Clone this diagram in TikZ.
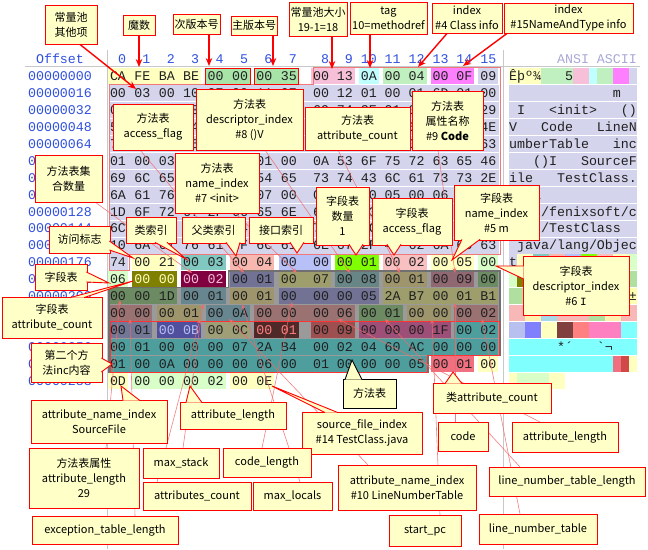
\documentclass[tikz,border=0pt]{standalone}
\usepackage{fontspec}
\setmainfont{Noto Sans CJK SC}
\newfontfamily\monof{Liberation Mono}
\usetikzlibrary{arrows.meta}
\definecolor{lblY}{HTML}{FFFFC8}
\definecolor{lblR}{HTML}{FF0000}
\definecolor{offB}{HTML}{3050E0}
\definecolor{hdrL}{HTML}{A8A8D8}
\definecolor{sepG}{HTML}{C8C8C8}
\definecolor{hexT}{HTML}{202020}
\definecolor{cLav}{HTML}{D4D4EC}
\definecolor{cYel}{HTML}{FFFFC0}
\definecolor{cVer}{HTML}{A8E4A8}
\definecolor{cPnk}{HTML}{F8C0D8}
\definecolor{cCya}{HTML}{C0FFFF}
\definecolor{cLgr}{HTML}{C0F0C0}
\definecolor{cMag}{HTML}{FF80FF}
\definecolor{cTea}{HTML}{80C8C0}
\definecolor{cSal}{HTML}{F8B8B0}
\definecolor{cPer}{HTML}{B8C0F8}
\definecolor{cBgr}{HTML}{80FF00}
\definecolor{cRos}{HTML}{F8C0C0}
\definecolor{cPgr}{HTML}{D8FFC8}
\definecolor{cOli}{HTML}{808000}
\definecolor{cMar}{HTML}{800040}
\definecolor{mA}{HTML}{B8B8F0}
\definecolor{mB}{HTML}{FFFFB0}
\definecolor{mC}{HTML}{A8D8D8}
\definecolor{mD}{HTML}{FFF0B0}
\definecolor{mE}{HTML}{E8A8B8}
\definecolor{mF}{HTML}{B0E0A0}
\definecolor{mG}{HTML}{A8D8E8}
\definecolor{mR}{HTML}{F8B8B8}
\definecolor{nA}{HTML}{B8C0F0}
\definecolor{nB}{HTML}{8080FF}
\definecolor{nC}{HTML}{FFFFC0}
\definecolor{nD}{HTML}{804040}
\definecolor{nE}{HTML}{FF8080}
\definecolor{nF}{HTML}{FF80C0}
\definecolor{nG}{HTML}{80FFFF}
\definecolor{cRed}{HTML}{F07080}
\definecolor{cRd2}{HTML}{D04848}
\definecolor{regG}{HTML}{9A9A9A}
\definecolor{regB}{HTML}{707070}
\definecolor{cpO}{HTML}{F07878}
\definecolor{pkC}{HTML}{F06A6A}
\newcommand\lblfont{\fontsize{11}{15}\selectfont}
\newcommand\hexfont{\monof\fontsize{13.3}{14}\selectfont}
\tikzset{
  declare function={colx(\i)=ifthenelse(\i<8,118+24.4*\i,321+23.9*(\i-8)); rowy(\r)=76+16.95*\r;},
  lbl/.style={draw=lblR, fill=lblY, line width=0.9pt, align=center, inner sep=0pt, font=\lblfont, text=black},
  hex/.style={font=\hexfont, inner sep=0pt, text height=8.8pt, text depth=0pt},
  asc/.style={font=\hexfont, inner sep=0pt, text height=8.8pt, text depth=0pt, anchor=west, text=hexT},
  offs/.style={font=\hexfont, inner sep=0pt, text height=8.8pt, text depth=0pt, text=offB},
  hdr/.style={font=\hexfont, inner sep=0pt, text height=8.8pt, text depth=0pt, text=offB},
  ra/.style={draw=lblR, line width=1.4pt, -{Stealth[length=8pt,width=6.5pt]}},
  pk/.style={draw=pkC, line width=0.6pt, draw opacity=0.85, -{Stealth[length=5pt,width=4pt]}},
}
\newcommand\hseg[4]{\fill[#4] ({colx(#2)-10},{rowy(#1)-8}) rectangle ({colx(#3)+10},{rowy(#1)+8});}
\newcommand\dseg[4]{\fill[#4!62!black] ({colx(#2)-10},{rowy(#1)-8}) rectangle ({colx(#3)+10},{rowy(#1)+8});}
\newcommand\aseg[4]{\fill[#4] ({509+8*#2},{rowy(#1)-8}) rectangle ({517+8*#3},{rowy(#1)+8});}
\newcommand\hexrow[5][hexT]{\foreach \b [count=\k from #4] in {#5} {\node[hex,text=#1] (#2-\k) at ({colx(\k)},{rowy(#3)}) {\b};}}
\newcommand\tail[4][lblR]{\fill[lblY] (#2) -- (#3) -- (#4) -- cycle; \draw[#1, line width=0.9pt] (#2) -- (#3) -- (#4);}
\begin{document}
\begin{tikzpicture}[x=1pt,y=-1pt]
\useasboundingbox (0,0) rectangle (648,549);
\fill[white] (0,0) rectangle (648,549);
% ---------- headers and separators
\draw[sepG, line width=0.8pt] (107.5,50) -- (107.5,549);
\draw[sepG, line width=0.8pt] (503,50) -- (503,549);
\draw[sepG, line width=0.6pt] (25,66.5) -- (640,66.5);
\node[offs] (offhdr) at (60,59) {Offset};
\foreach \i in {0,...,15} {\node[hdr] (hd\i) at ({colx(\i)+ifthenelse(\i<10,4,0)},59) {\i};}
\node[hex, text=hdrL] (ansi) at (597,59) {ANSI ASCII};
\foreach \o [count=\r from 0] in {00000000,00000016,00000032,00000048,00000064,00000080,00000096,00000112,00000128,00000144,00000160,00000176,00000192,00000208,00000224,00000240,00000256,00000272,00000288}
  {\node[offs] (off\r) at (60,{rowy(\r)}) {\o};}
% ---------- hex backgrounds
\hseg{0}{0}{3}{cYel}
\hseg{0}{4}{5}{cVer}
\hseg{0}{6}{7}{cVer}
\hseg{0}{8}{9}{cPnk}
\hseg{0}{10}{10}{cCya}
\hseg{0}{11}{12}{cLgr}
\hseg{0}{13}{14}{cMag}
\hseg{0}{15}{15}{cLav}
\foreach \r in {1,...,10} {\fill[cLav] (109,{rowy(\r)-8}) rectangle (499,{rowy(\r)+8});}
\fill[cLav] (109,{rowy(11)-8}) rectangle ({colx(0)+10},{rowy(11)+8});
\hseg{11}{1}{2}{cYel}
\hseg{11}{3}{4}{cTea}
\hseg{11}{5}{6}{cSal}
\hseg{11}{7}{8}{cPer}
\hseg{11}{9}{10}{cBgr}
\hseg{11}{11}{12}{cRos}
\hseg{11}{13}{14}{cYel}
\hseg{11}{15}{15}{cPgr}
\hseg{12}{0}{0}{cPgr}
\hseg{12}{1}{2}{cOli}
\hseg{12}{3}{4}{cMar}
% methods region
\fill[regG] ({colx(5)-11.5},{rowy(12)-8.5}) -- (500,{rowy(12)-8.5}) -- (500,{rowy(16)+8.5}) -- ({colx(12)+11.5},{rowy(16)+8.5}) -- ({colx(12)+11.5},{rowy(17)+8.5}) -- (109,{rowy(17)+8.5}) -- (109,{rowy(13)-8.5}) -- ({colx(5)-11.5},{rowy(13)-8.5}) -- cycle;
\dseg{12}{5}{6}{mA}
\dseg{12}{7}{8}{mB}
\dseg{12}{9}{10}{mC}
\dseg{12}{11}{12}{mD}
\dseg{12}{13}{14}{mE}
\dseg{12}{15}{15}{mF}
\dseg{13}{0}{2}{mF}
\dseg{13}{3}{4}{mG}
\dseg{13}{5}{6}{mD}
\dseg{13}{7}{10}{mA}
\dseg{13}{11}{15}{mB}
\dseg{14}{0}{1}{mR}
\dseg{14}{2}{3}{mD}
\dseg{14}{4}{5}{mG}
\dseg{14}{6}{9}{mR}
\dseg{14}{10}{11}{mF}
\dseg{14}{12}{13}{mD}
\dseg{14}{14}{15}{mR}
\dseg{15}{0}{1}{nA}
\dseg{15}{2}{3}{nB}
\dseg{15}{4}{5}{nC}
\dseg{15}{6}{7}{nD}
\dseg{15}{8}{9}{nE}
\dseg{15}{10}{13}{nF}
\dseg{15}{14}{15}{nG}
\dseg{16}{0}{15}{nG}
\dseg{17}{0}{12}{nG}
\hseg{17}{13}{14}{cRed}
\hseg{17}{15}{15}{cYel}
\hseg{18}{0}{0}{cYel}
\hseg{18}{1}{4}{cPgr}
\hseg{18}{5}{6}{cYel}
% outlines
\draw[regB, line width=1.2pt] ({colx(5)-11.5},{rowy(12)-8.5}) -- (500,{rowy(12)-8.5}) -- (500,{rowy(16)+8.5}) -- ({colx(12)+11.5},{rowy(16)+8.5}) -- ({colx(12)+11.5},{rowy(17)+8.5}) -- (109,{rowy(17)+8.5}) -- (109,{rowy(13)-8.5}) -- ({colx(5)-11.5},{rowy(13)-8.5}) -- cycle;
\draw[cpO, line width=1pt] ({colx(8)-8},{rowy(0)-8.5}) -- (500,{rowy(0)-8.5}) -- (500,{rowy(10)+8.5}) -- ({colx(0)+11},{rowy(10)+8.5}) -- ({colx(0)+11},{rowy(11)+8.5}) -- (109,{rowy(11)+8.5}) -- (109,{rowy(0)+8.5}) -- ({colx(8)-8},{rowy(0)+8.5}) -- cycle;
\draw[lblR!80!white, line width=1pt] (110,{rowy(15)-8.5}) -- (499,{rowy(15)-8.5}) -- (499,{rowy(16)+8.5}) -- ({colx(12)+11},{rowy(16)+8.5}) -- ({colx(12)+11},{rowy(17)+8.5}) -- (110,{rowy(17)+8.5}) -- cycle;
\draw[lblR, line width=1pt] ({colx(4)-10},{rowy(0)-8}) rectangle ({colx(5)+10},{rowy(0)+8});
\draw[lblR, line width=1pt] ({colx(6)-10},{rowy(0)-8}) rectangle ({colx(7)+10},{rowy(0)+8});
% ---------- hex text
\hexrow{h0}{0}{0}{CA,FE,BA,BE,00,00,00,35,00,13,0A,00,04,00,0F,09}
\hexrow{h1}{1}{0}{00,03,00,10,07,00,11,07,00,12,01,00,01,6D,01,00}
\hexrow{h2}{2}{0}{01,49,01,00,06,3C,69,6E,69,74,3E,01,00,03,28,29}
\hexrow{h3}{3}{0}{56,01,00,04,43,6F,64,65,01,00,0F,4C,69,6E,65,4E}
\hexrow{h4}{4}{0}{75,6D,62,65,72,54,61,62,6C,65,01,00,03,69,6E,63}
\hexrow{h5}{5}{0}{01,00,03,28,29,49,01,00,0A,53,6F,75,72,63,65,46}
\hexrow{h6}{6}{0}{69,6C,65,01,00,0E,54,65,73,74,43,6C,61,73,73,2E}
\hexrow{h7}{7}{0}{6A,61,76,61,0C,00,07,00,08,0C,00,05,00,06,01,00}
\hexrow{h8}{8}{0}{1D,6F,72,67,2F,66,65,6E,69,78,73,6F,66,74,2F,63}
\hexrow{h9}{9}{0}{6C,61,7A,7A,2F,54,65,73,74,43,6C,61,73,73,01,00}
\hexrow{h10}{10}{0}{10,6A,61,76,61,2F,6C,61,6E,67,2F,4F,62,6A,65,63}
\hexrow{h11}{11}{0}{74,00,21,00,03,00,04,00,00,00,01,00,02,00,05,00}
\hexrow{h12}{12}{0}{06}
\hexrow[cYel]{h12}{12}{1}{00,00}
\hexrow[cPnk]{h12}{12}{3}{00,02}
\hexrow{h12}{12}{5}{00,01,00,07,00,08,00,01,00,09,00}
\hexrow{h13}{13}{0}{00,00,1D,00,01,00,01,00,00,00,05,2A,B7,00,01,B1}
\hexrow{h14}{14}{0}{00,00,00,01,00,0A,00,00,00,06,00,01,00,00,00,02}
\hexrow{h15}{15}{0}{00,01}
\hexrow[nA]{h15}{15}{2}{00,0B}
\hexrow{h15}{15}{4}{00,0C}
\hexrow[nE]{h15}{15}{6}{00,01}
\hexrow{h15}{15}{8}{00,09,00,00,00,1F,00,02}
\hexrow{h16}{16}{0}{00,01,00,00,00,07,2A,B4,00,02,04,60,AC,00,00,00}
\hexrow{h17}{17}{0}{01,00,0A,00,00,00,06,00,01,00,00,00,05,00,01,00}
\hexrow{h18}{18}{0}{0D,00,00,00,02,00,0E}
% ---------- ASCII pane
\aseg{0}{0}{3}{cYel}
\aseg{0}{4}{7}{cLgr}
\aseg{0}{8}{9}{cPnk}
\aseg{0}{10}{10}{cCya}
\aseg{0}{11}{12}{cLgr}
\aseg{0}{13}{14}{cMag}
\aseg{0}{15}{15}{cLav}
\foreach \r in {1,...,10} {\aseg{\r}{0}{15}{cLav}}
\aseg{11}{0}{0}{cLav}
\aseg{11}{1}{2}{cYel}
\aseg{11}{3}{4}{cTea}
\aseg{11}{5}{6}{cSal}
\aseg{11}{7}{8}{cPer}
\aseg{11}{9}{10}{cBgr}
\aseg{11}{11}{12}{cRos}
\aseg{11}{13}{14}{cYel}
\aseg{11}{15}{15}{cPgr}
\aseg{12}{0}{0}{cPgr}
\aseg{12}{1}{2}{cOli}
\aseg{12}{3}{4}{cMar}
\aseg{12}{5}{6}{mA}
\aseg{12}{7}{8}{mB}
\aseg{12}{9}{10}{mC}
\aseg{12}{11}{12}{mD}
\aseg{12}{13}{14}{mE}
\aseg{12}{15}{15}{mF}
\aseg{13}{0}{2}{mF}
\aseg{13}{3}{4}{mG}
\aseg{13}{5}{6}{mD}
\aseg{13}{7}{10}{mA}
\aseg{13}{11}{15}{mB}
\aseg{14}{0}{1}{mR}
\aseg{14}{2}{3}{mD}
\aseg{14}{4}{5}{mG}
\aseg{14}{6}{9}{mR}
\aseg{14}{10}{11}{mF}
\aseg{14}{12}{13}{mD}
\aseg{14}{14}{15}{mR}
\aseg{15}{0}{1}{nA}
\aseg{15}{2}{3}{nB}
\aseg{15}{4}{5}{nC}
\aseg{15}{6}{7}{nD}
\aseg{15}{8}{9}{nE}
\aseg{15}{10}{13}{nF}
\aseg{15}{14}{15}{nG}
\aseg{16}{0}{15}{nG}
\aseg{17}{0}{12}{nG}
\aseg{17}{13}{13}{cRed}
\aseg{17}{14}{14}{cRd2}
\aseg{17}{15}{15}{cYel}
\aseg{18}{0}{0}{cYel}
\aseg{18}{1}{4}{cPgr}
\aseg{18}{5}{6}{cYel}
\node[asc] (a0) at (509,{rowy(0)}) {Êþº¾~~~5};
\node[asc] (a1) at (509,{rowy(1)}) {~~~~~~~~~~~~~m};
\node[asc] (a2) at (509,{rowy(2)}) {~I~~~<init>~~~()};
\node[asc] (a3) at (509,{rowy(3)}) {V~~~Code~~~LineN};
\node[asc] (a4) at (509,{rowy(4)}) {umberTable~~~inc};
\node[asc] (a5) at (509,{rowy(5)}) {~~~()I~~~SourceF};
\node[asc] (a6) at (509,{rowy(6)}) {ile~~~TestClass.};
\node[asc] (a7) at (509,{rowy(7)}) {java};
\node[asc] (a8) at (509,{rowy(8)}) {~org/fenixsoft/c};
\node[asc] (a9) at (509,{rowy(9)}) {lazz/TestClass};
\node[asc] (a10) at (509,{rowy(10)}) {~java/lang/Objec};
\node[asc] (a11) at (509,{rowy(11)}) {t~!};
\node[asc] (a13) at (509,{rowy(13)}) {~~~~~~~~~~~*·~~±};
\node[asc] (a16) at (509,{rowy(16)}) {~~~~~~*´~~~\char"60¬};
% ---------- target coordinates
\coordinate (tOther) at (136,89);
\coordinate (tMagic) at (139,67);
\coordinate (tMinor) at (209,66);
\coordinate (tMajor) at (273,66);
\coordinate (tCnt) at (332,69);
\coordinate (tTag) at (370,68);
\coordinate (tIdx4) at (418,67);
\coordinate (tIdx15) at (463,66);
\coordinate (tMc) at (192,273);
\coordinate (tMa) at (244,273);
\coordinate (tMn) at (297,273);
\coordinate (tMd) at (350,273);
\coordinate (tMac) at (400,273);
\coordinate (tMan) at (455,273);
\coordinate (tAl29) at (120,300);
\coordinate (tExc) at (130,319);
\coordinate (tMs) at (203,304);
\coordinate (tMl) at (242,304);
\coordinate (tCl) at (292,302);
\coordinate (tAc) at (200,319);
\coordinate (tAn) at (229,319);
\coordinate (tAl6) at (338,319);
\coordinate (tLtl) at (385,319);
\coordinate (tSp) at (432,319);
\coordinate (tCode) at (455,303);
\coordinate (tLt) at (482,319);
% ---------- top label nodes
\node[lbl, minimum width=52pt, minimum height=39pt] (cpOther) at (71,24.5) {常量池\\其他项};
\node[lbl, minimum width=32pt, minimum height=20pt] (magic) at (139,25) {魔数};
\node[lbl, minimum width=47pt, minimum height=20pt] (minor) at (196.5,24.5) {次版本号};
\node[lbl, minimum width=46pt, minimum height=19pt] (major) at (254,25.5) {主版本号};
\node[lbl, minimum width=58pt, minimum height=34pt] (cpCount) at (318,19) {常量池大小\\19-1=18};
\node[lbl, minimum width=77pt, minimum height=32pt] (tag) at (388.5,18) {tag\\10=methodref};
\node[lbl, minimum width=70pt, minimum height=30pt] (idx4) at (467,18) {index\\\#4 Class info};
\node[lbl, minimum width=129pt, minimum height=30pt] (idx15) at (568.5,18) {index\\\#15NameAndType info};
% ---------- pink connectors
\coordinate (sMc) at (95,202);
\coordinate (sMa) at (140,150);
\coordinate (sMn) at (235,213);
\coordinate (sMd) at (265,150);
\coordinate (sMac) at (338,150);
\coordinate (sMan) at (438,150);
\coordinate (sAl29) at (106,448);
\coordinate (sExc) at (135,516);
\coordinate (sMs) at (183,448);
\coordinate (sMl) at (300,482);
\coordinate (sCl) at (262,448);
\coordinate (sAc) at (157,482);
\coordinate (sAn) at (368,465);
\coordinate (sAl6) at (540,422);
\coordinate (sLtl) at (520,467);
\coordinate (sSp) at (440,515);
\coordinate (sCode) at (455,422);
\coordinate (sLt) at (520,514);
\draw[pk] (sMc) -- (tMc);
\draw[pk] (sMa) -- (tMa);
\draw[pk] (sMn) -- (tMn);
\draw[pk] (sMd) -- (tMd);
\draw[pk] (sMac) -- (tMac);
\draw[pk] (sMan) -- (tMan);
\draw[pk] (sAl29) -- (tAl29);
\draw[pk] (sExc) -- (tExc);
\draw[pk] (sMs) -- (tMs);
\draw[pk] (sMl) -- (tMl);
\draw[pk] (sCl) -- (tCl);
\draw[pk] (sAc) -- (tAc);
\draw[pk] (sAn) -- (tAn);
\draw[pk] (sAl6) -- (tAl6);
\draw[pk] (sLtl) -- (tLtl);
\draw[pk] (sSp) -- (tSp);
\draw[pk] (sCode) -- (tCode);
\draw[pk] (sLt) -- (tLt);
% ---------- red arrows from top labels
\draw[ra] ([xshift=9pt]cpOther.south) -- (tOther);
\draw[ra] (magic.south) -- (tMagic);
\draw[ra] ([xshift=12.5pt]minor.south) -- (tMinor);
\draw[ra] ([xshift=19pt]major.south) -- (tMajor);
\draw[ra] ([xshift=14pt]cpCount.south) -- (tCnt);
\draw[ra] ([xshift=-18.5pt]tag.south) -- (tTag);
\draw[ra] ([xshift=-20pt]idx4.south) -- (tIdx4);
\draw[ra] ([xshift=-61.5pt]idx15.south) -- (tIdx15);
% ---------- middle labels
\node[lbl, minimum width=80pt, minimum height=46pt] (mAcc) at (153,127) {方法表\\access\_flag};
\node[lbl, minimum width=107pt, minimum height=61pt] (mDesc) at (249.5,119.5) {方法表\\descriptor\_index\\\#8 ()V};
\node[lbl, minimum width=105pt, minimum height=43pt] (mAttrCnt) at (357.5,128.5) {方法表\\attribute\_count};
\node[lbl, minimum width=71pt, minimum height=59pt] (mAttrName) at (447.5,120.5) {方法表\\属性名称\\\#9 \textbf{Code}};
\node[lbl, minimum width=67pt, minimum height=47pt] (mCount) at (68.5,178.5) {方法表集\\合数量};
\node[lbl, minimum width=84pt, minimum height=60pt] (mName) at (217,183) {方法表\\name\_index\\\#7 <init>};
\node[lbl, minimum width=50pt, minimum height=26pt] (thisCls) at (151,230) {类索引};
\node[lbl, minimum width=63pt, minimum height=26pt] (superCls) at (213.5,230) {父类索引};
\node[lbl, minimum width=64pt, minimum height=26pt] (ifaces) at (281,230) {接口索引};
\node[lbl, minimum width=61pt, minimum height=27pt] (access) at (79.5,239.5) {访问标志};
\node[lbl, minimum width=53pt, minimum height=58pt] (fCount) at (342.5,216) {字段表\\数量\\1};
\node[lbl, minimum width=80pt, minimum height=47pt] (fAcc) at (412,221.5) {字段表\\access\_flag};
\node[lbl, minimum width=85pt, minimum height=55pt] (fName) at (496.5,212.5) {字段表\\name\_index\\\#5 m};
\node[lbl, minimum width=106pt, minimum height=59pt] (fDesc) at (576,285.5) {字段表\\descriptor\_index\\\#6 {\monof I}};
\node[lbl, minimum width=52pt, minimum height=26pt] (fTbl) at (61,277) {字段表};
\node[lbl, minimum width=100pt, minimum height=41pt] (fAttrCnt) at (52,317.5) {字段表\\attribute\_count};
\node[lbl, minimum width=71pt, minimum height=39pt] (m2) at (66.5,362.5) {第二个方\\法inc内容};
\node[lbl, draw=black, minimum width=53pt, minimum height=29pt] (mTbl) at (369.5,393.5) {方法表};
\node[lbl, minimum width=118pt, minimum height=30pt] (clsAttrCnt) at (492,398) {类attribute\_count};
% ---------- bottom labels
\node[lbl, minimum width=136pt, minimum height=43pt] (anSrc) at (99,421.5) {attribute\_name\_index\\SourceFile};
\node[lbl, minimum width=106pt, minimum height=27pt] (alen1) at (233,415.5) {attribute\_length};
\node[lbl, minimum width=120pt, minimum height=42pt] (sfi) at (362,433) {source\_file\_index\\\#14 TestClass.java};
\node[lbl, minimum width=110pt, minimum height=60pt] (mAttrLen) at (84,478) {方法表属性\\attribute\_length\\29};
\node[lbl, minimum width=76pt, minimum height=30pt] (maxStack) at (181,463) {max\_stack};
\node[lbl, minimum width=88pt, minimum height=29pt] (codeLen) at (267,462.5) {code\_length};
\node[lbl, minimum width=108pt, minimum height=28pt] (attrsCnt) at (197,496) {attributes\_count};
\node[lbl, minimum width=79pt, minimum height=28pt] (maxLocals) at (292.5,496) {max\_locals};
\node[lbl, minimum width=146pt, minimum height=28pt] (excLen) at (105,530) {exception\_table\_length};
\node[lbl, minimum width=138pt, minimum height=45pt] (anLNT) at (407,487.5) {attribute\_name\_index\\\#10 LineNumberTable};
\node[lbl, minimum width=72pt, minimum height=31pt] (startPc) at (425,530.5) {start\_pc};
\node[lbl, minimum width=50pt, minimum height=29pt] (code) at (463,436.5) {code};
\node[lbl, minimum width=106pt, minimum height=30pt] (alen2) at (565,437) {attribute\_length};
\node[lbl, minimum width=156pt, minimum height=29pt] (lntLen) at (567,481.5) {line\_number\_table\_length};
\node[lbl, minimum width=118pt, minimum height=30pt] (lnt) at (538,529) {line\_number\_table};
% ---------- callout tails
\coordinate (pAcc) at (133,258);
\coordinate (pThis) at (186,259);
\coordinate (pSup) at (236,256);
\coordinate (pIf) at (297,253);
\coordinate (pFc) at (356,255);
\coordinate (pFa) at (394,255);
\coordinate (pFn) at (452,260);
\coordinate (pFd) at (496,266);
\coordinate (pFt) at (109,283);
\coordinate (pFac) at (133,281);
\coordinate (pM2) at (112,364);
\coordinate (pMt) at (352,360);
\coordinate (pCac) at (453,372);
\coordinate (pAs) at (121,386);
\coordinate (pAl) at (190,386);
\coordinate (pSf) at (272,386);
\tail{109.4,241}{pAcc}{109.4,250}
\tail{155,242.4}{pThis}{167,242.4}
\tail{226,242.4}{pSup}{240,242.4}
\tail{290,242.4}{pIf}{304,242.4}
\tail{349,244.4}{pFc}{363,244.4}
\tail{387,244.4}{pFa}{401,244.4}
\tail{462,239.4}{pFn}{480,239.4}
\tail{523.6,266}{pFd}{523.6,279}
\tail{86.4,272}{pFt}{86.4,282}
\tail{70,297.6}{pFac}{84,297.6}
\tail{101.4,358}{pM2}{101.4,372}
\tail[black]{345,379.6}{pMt}{362,379.6}
\tail{445,383.6}{pCac}{462,383.6}
\tail{123,400.6}{pAs}{140,400.6}
\tail{186,402.6}{pAl}{202,402.6}
\tail{325,412.6}{pSf}{338,412.6}
\end{tikzpicture}
\end{document}
